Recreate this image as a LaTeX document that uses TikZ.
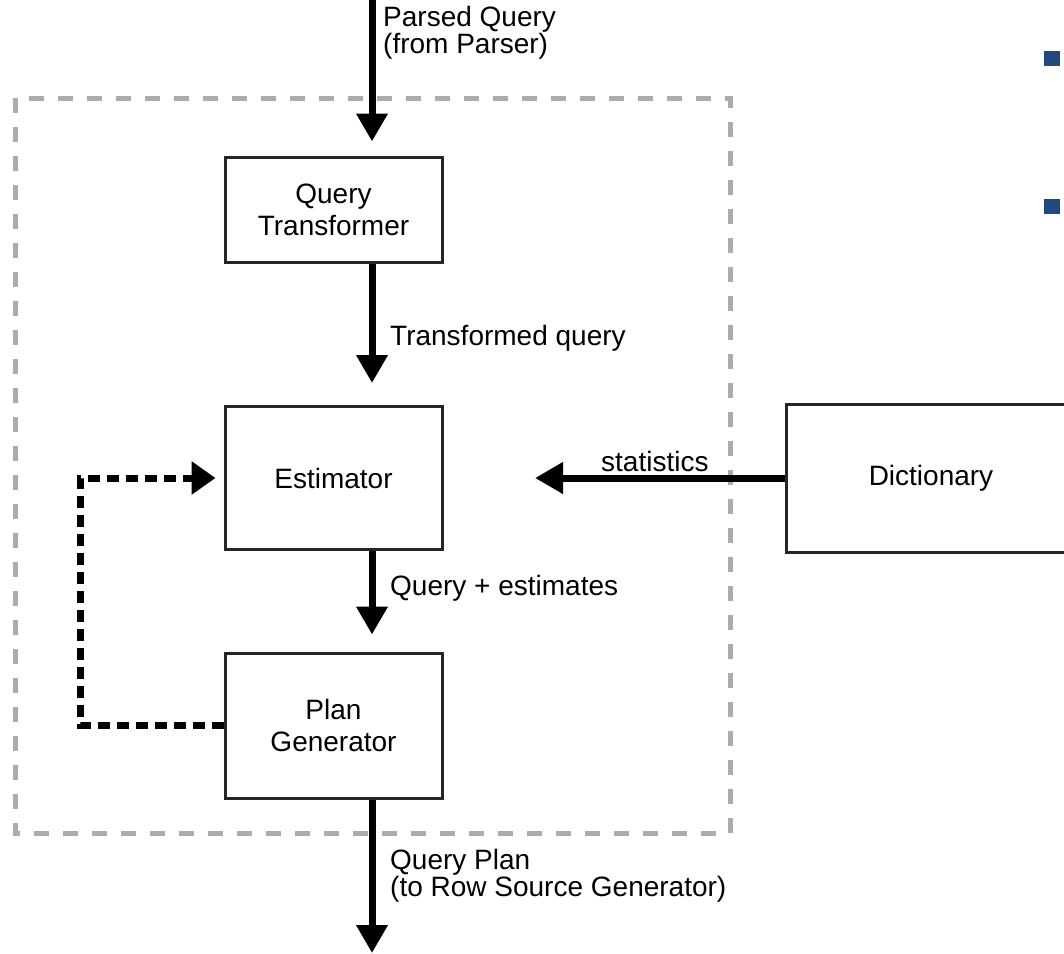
\documentclass[tikz,border=0pt]{standalone}
\usepackage{fontspec}
\setmainfont{Liberation Sans}
\usetikzlibrary{arrows.meta}
\definecolor{bulletblue}{RGB}{31,74,128}

\begin{document}
\begin{tikzpicture}[x=1pt,y=-1pt,
        block/.style={draw=black!85,line width=3pt,minimum width=217pt,align=center,font=\fontsize{28}{32}\selectfont},
        lbl/.style={anchor=west,align=left,inner sep=0pt,font=\fontsize{28}{24}\selectfont},
        flow/.style={line width=7pt,-{Triangle[width=30pt,length=28pt]}},
        loop/.style={line width=7pt,dash pattern=on 12pt off 7pt,-{Triangle[width=32pt,length=24pt]}}]
        \useasboundingbox (0,0) rectangle (1064,953);
        \draw[gray!65,line width=5pt,dash pattern=on 15pt off 14pt](15,98) rectangle (730,833);

        \node[block,minimum height=105pt](qt) at (333.5,209.5){Query\\Transformer};
        \node[block,minimum height=143pt](est) at (333.5,478){Estimator};
        \node[block,minimum height=145pt](plan) at (333.5,725.5){Plan\\Generator};
        \node[block,minimum height=148pt,minimum width=290pt](dict) at (931,478){Dictionary};

        \coordinate(in) at (372,0);
        \coordinate(out) at (372,953);
        \coordinate(stat) at (535,478);
        \coordinate(fb) at (80,600);

        \draw[flow,shorten >=14pt](in)--(in |- qt.north);
        \draw[flow,shorten >=22pt](qt.south -| in)--(est.north -| in);
        \draw[flow,shorten >=17pt](est.south -| in)--(plan.north -| in);
        \draw[flow](plan.south -| in)--(out);
        \draw[flow](dict.west)--(stat);
        \draw[loop,shorten >=8pt](plan.west)-|(fb)|-(est.west);

        \node[lbl](inlbl) at (383,33){Parsed Query\\(from Parser)};
        \node[lbl](qtlbl) at (390,338){Transformed query};
        \node[lbl](estlbl) at (390,588){Query + estimates};
        \node[lbl](statlbl) at (601,461){statistics};
        \node[lbl](outlbl) at (390,876){Query Plan\\(to Row Source Generator)};

        \fill[bulletblue](1044,51) rectangle (1060,66);
        \fill[bulletblue](1044,199) rectangle (1060,214);
\end{tikzpicture}
\end{document}
